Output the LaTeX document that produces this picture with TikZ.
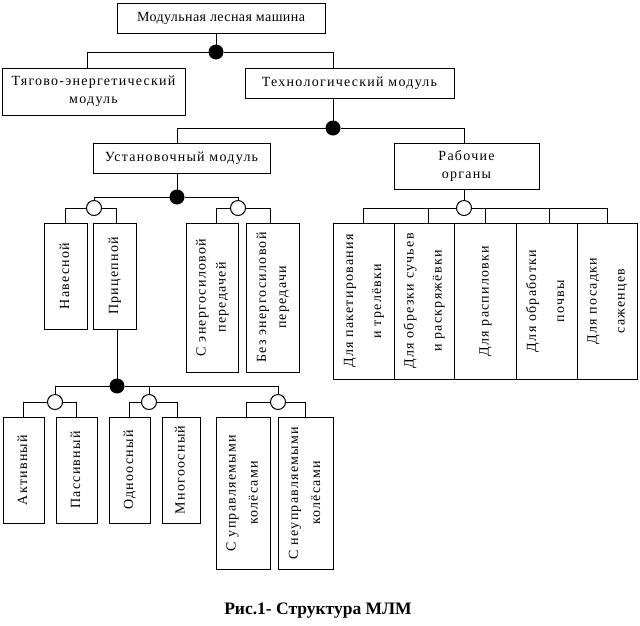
\documentclass[tikz,border=0pt]{standalone}
\usepackage{fontspec}
\setmainfont{Liberation Serif}
\newfontfamily\boxfont{Liberation Serif}[LetterSpace=9]
\newfontfamily\topfont{Liberation Serif}[LetterSpace=3]
\usepackage{graphicx}
\usepackage{tikz}
\usetikzlibrary{calc}

\newcommand{\vlab}[1]{\rotatebox{90}{\begin{tabular}{@{}c@{}}#1\end{tabular}}}

\tikzset{
  box/.style={draw, line width=1pt, inner sep=0pt, outer sep=0pt, align=center,
    font=\boxfont\fontsize{14}{18}\selectfont},
  fulldot/.style={circle, fill=black, inner sep=0pt, outer sep=0pt, minimum size=15pt},
  opendot/.style={circle, draw, fill=white, line width=1pt, inner sep=0pt, outer sep=0pt, minimum size=15pt},
}

\begin{document}
\begin{tikzpicture}[x=1pt, y=-1pt, line width=1pt]
\useasboundingbox (0,0) rectangle (640,625);

% upper levels
\node[box, font=\topfont\fontsize{14}{18}\selectfont, minimum width=208, minimum height=30] (mlm) at (221,18) {Модульная лесная машина};
\node[box, minimum width=183, minimum height=47] (tyag) at (93.5,91.5) {Тягово-энергетический\\модуль};
\node[box, minimum width=209, minimum height=30] (tech) at (349.5,83) {Технологический модуль};
\node[box, minimum width=177, minimum height=30] (ust) at (181.5,158) {Установочный модуль};
\node[box, minimum width=145, minimum height=46] (rab) at (466.5,166) {Рабочие\\органы};

% branch points
\node[fulldot] (d1) at (216,52) {};
\node[fulldot] (d2) at (333,128) {};
\node[fulldot] (d3) at (177,197) {};
\node[fulldot] (d4) at (117,386) {};
\node[opendot] (c1) at (94,208) {};
\node[opendot] (c2) at (238,208) {};
\node[opendot] (c3) at (464,208) {};
\node[opendot] (c4) at (55,402) {};
\node[opendot] (c5) at (149,402) {};
\node[opendot] (c6) at (278,402) {};

% installation module
\node[box, minimum width=43, minimum height=106] (nav) at (65.5,276) {\vlab{Навесной}};
\node[box, minimum width=43, minimum height=106] (pric) at (114.5,276) {\vlab{Прицепной}};
\node[box, minimum width=52, minimum height=149] (senerg) at (212,297.5) {\vlab{С энергосиловой\\[2pt]передачей}};
\node[box, minimum width=53, minimum height=149] (bez) at (272.5,297.5) {\vlab{Без энергосиловой\\[2pt]передачи}};

% working bodies
\node[box, minimum width=61, minimum height=156] (ro1) at (363.5,301) {\vlab{Для пакетирования\\[10pt]и трелёвки}};
\node[box, minimum width=60, minimum height=156] (ro2) at (424,301) {\vlab{Для обрезки сучьев\\[10pt]и раскряжёвки}};
\node[box, minimum width=62, minimum height=156] (ro3) at (485,301) {\vlab{Для распиловки}};
\node[box, minimum width=61, minimum height=156] (ro4) at (546.5,301) {\vlab{Для обработки\\[10pt]почвы}};
\node[box, minimum width=60, minimum height=156] (ro5) at (607,301) {\vlab{Для посадки\\[10pt]саженцев}};

% trailer types
\node[box, minimum width=41, minimum height=106] (akt) at (23.5,470) {\vlab{Активный}};
\node[box, minimum width=41, minimum height=106] (pass) at (76.5,470) {\vlab{Пассивный}};
\node[box, minimum width=41, minimum height=106] (odno) at (129.5,470) {\vlab{Одноосный}};
\node[box, minimum width=38, minimum height=106] (mnogo) at (181,470) {\vlab{Многоосный}};
\node[box, minimum width=54, minimum height=152] (supr) at (243,493) {\vlab{С управляемыми\\[4pt]колёсами}};
\node[box, minimum width=55, minimum height=152] (sneupr) at (305.5,493) {\vlab{С неуправляемыми\\[4pt]колёсами}};

% connectors
\draw (mlm.south -| d1) -- (d1);
\draw ([xshift=-6pt]tyag.north) |- (d1) -| (tech.north -| d2);
\draw (tech.south -| d2) -- (d2);
\draw (ust.north -| d3) |- (d2) -| (rab.north -| c3);
\draw (ust.south -| d3) -- (d3);
\draw (rab.south -| c3) -- (c3);
\draw (c1) |- (d3) -| (c2);
\draw (nav.north) |- (c1) -| ([xshift=2pt]pric.north);
\draw ([xshift=4pt]senerg.north) |- (c2) -| ([xshift=-2pt]bez.north);
\draw (ro1.north) |- (c3) -| (ro5.north);
\draw ([xshift=4pt]ro2.north) -- ([xshift=4pt]ro2.north |- c3);
\draw (ro3.north) -- (ro3.north |- c3);
\draw ([xshift=3pt]ro4.north) -- ([xshift=3pt]ro4.north |- c3);
\draw (pric.south -| d4) -- (d4);
\draw (c4) |- (d4) -| (c6);
\draw (c5) -- (c5 |- d4);
\draw (akt.north) |- (c4) -| (pass.north);
\draw (odno.north) |- (c5) -| ([xshift=-4pt]mnogo.north);
\draw ([xshift=3pt]supr.north) |- (c6) -| (sneupr.north);

% caption
\node[font=\bfseries\fontsize{17.5}{20}\selectfont] (cap) at (318,611) {Рис.1- Структура МЛМ};
\end{tikzpicture}
\end{document}
